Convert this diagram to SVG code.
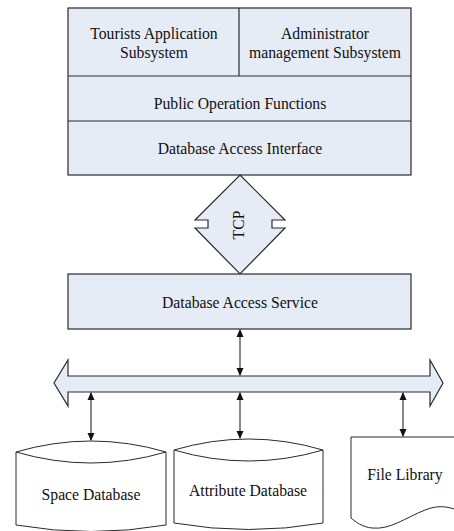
<svg xmlns="http://www.w3.org/2000/svg" width="454" height="531" viewBox="0 0 454 531">
<style>
.box{fill:#E6ECF6;stroke:#2a2a2a;stroke-width:1.2}
.shape{fill:#FFFFFF;stroke:#2a2a2a;stroke-width:1}
.t{font-family:"Liberation Serif","Times New Roman",serif;font-size:15.7px;fill:#111;text-anchor:middle;dominant-baseline:central}
.c{stroke:#111;stroke-width:1;fill:none}
</style>
<defs>
<marker id="ah" markerWidth="8" markerHeight="8" refX="7" refY="4" orient="auto-start-reverse" markerUnits="userSpaceOnUse">
<path d="M0,0.5 L8,4 L0,7.5 Z" fill="#111"/>
</marker>
</defs>
<rect width="454" height="531" fill="#FFFFFF"/>
<g id="top-block">
<rect class="box" x="68" y="8" width="343" height="167"/>
<line class="box" x1="68" y1="76" x2="411" y2="76"/>
<line class="box" x1="68" y1="121" x2="411" y2="121"/>
<line class="box" x1="239" y1="8" x2="239" y2="76"/>
</g>
<g id="tourists">
<text class="t" x="154" y="33">Tourists Application</text>
<text class="t" x="154" y="52">Subsystem</text>
</g>
<g id="admin">
<text class="t" x="325" y="33">Administrator</text>
<text class="t" x="325" y="52">management Subsystem</text>
</g>
<g id="public">
<text class="t" x="240" y="103">Public Operation Functions</text>
</g>
<g id="interface">
<text class="t" x="240" y="148">Database Access Interface</text>
</g>
<g id="tcp">
<path class="box" d="M240,175 L285,220 L272,220 L272,228 L285,228 L240,274 L195,228 L208,228 L208,220 L195,220 Z"/>
<text class="t" x="0" y="0" transform="translate(238,225) rotate(-90)">TCP</text>
</g>
<g id="service">
<rect class="box" x="68" y="274" width="343" height="55"/>
<text class="t" x="240" y="302">Database Access Service</text>
</g>
<g id="bus">
<path class="box" d="M54,383 L68,360 L68,376 L430,376 L430,360 L443,383 L430,406 L430,392 L68,392 L68,406 Z"/>
</g>
<g id="space-db">
<path class="shape" d="M16,452 Q91,430 166,452 L166,525 Q91,538 16,525 Z"/>
<path class="shape" d="M16,452 Q91,474 166,452"/>
<text class="t" x="91" y="494">Space Database</text>
</g>
<g id="attribute-db">
<path class="shape" d="M174,450 Q248.5,428 323,450 L323,523 Q248.5,536 174,523 Z"/>
<path class="shape" d="M174,450 Q248.5,472 323,450"/>
<text class="t" x="248" y="490">Attribute Database</text>
</g>
<g id="file-library">
<path class="shape" d="M351,437 L462,437 L462,512 C450,507 440,504 425,510 C405,518 390,530 372,528 C362,527 356,522 351,518 Z"/>
<text class="t" x="405" y="474">File Library</text>
</g>
<g id="connectors">
<line class="c" x1="240" y1="330" x2="240" y2="375" marker-start="url(#ah)" marker-end="url(#ah)"/>
<line class="c" x1="91" y1="393" x2="91" y2="440" marker-start="url(#ah)" marker-end="url(#ah)"/>
<line class="c" x1="240" y1="393" x2="240" y2="438" marker-start="url(#ah)" marker-end="url(#ah)"/>
<line class="c" x1="403" y1="393" x2="403" y2="436" marker-start="url(#ah)" marker-end="url(#ah)"/>
</g>
</svg>
